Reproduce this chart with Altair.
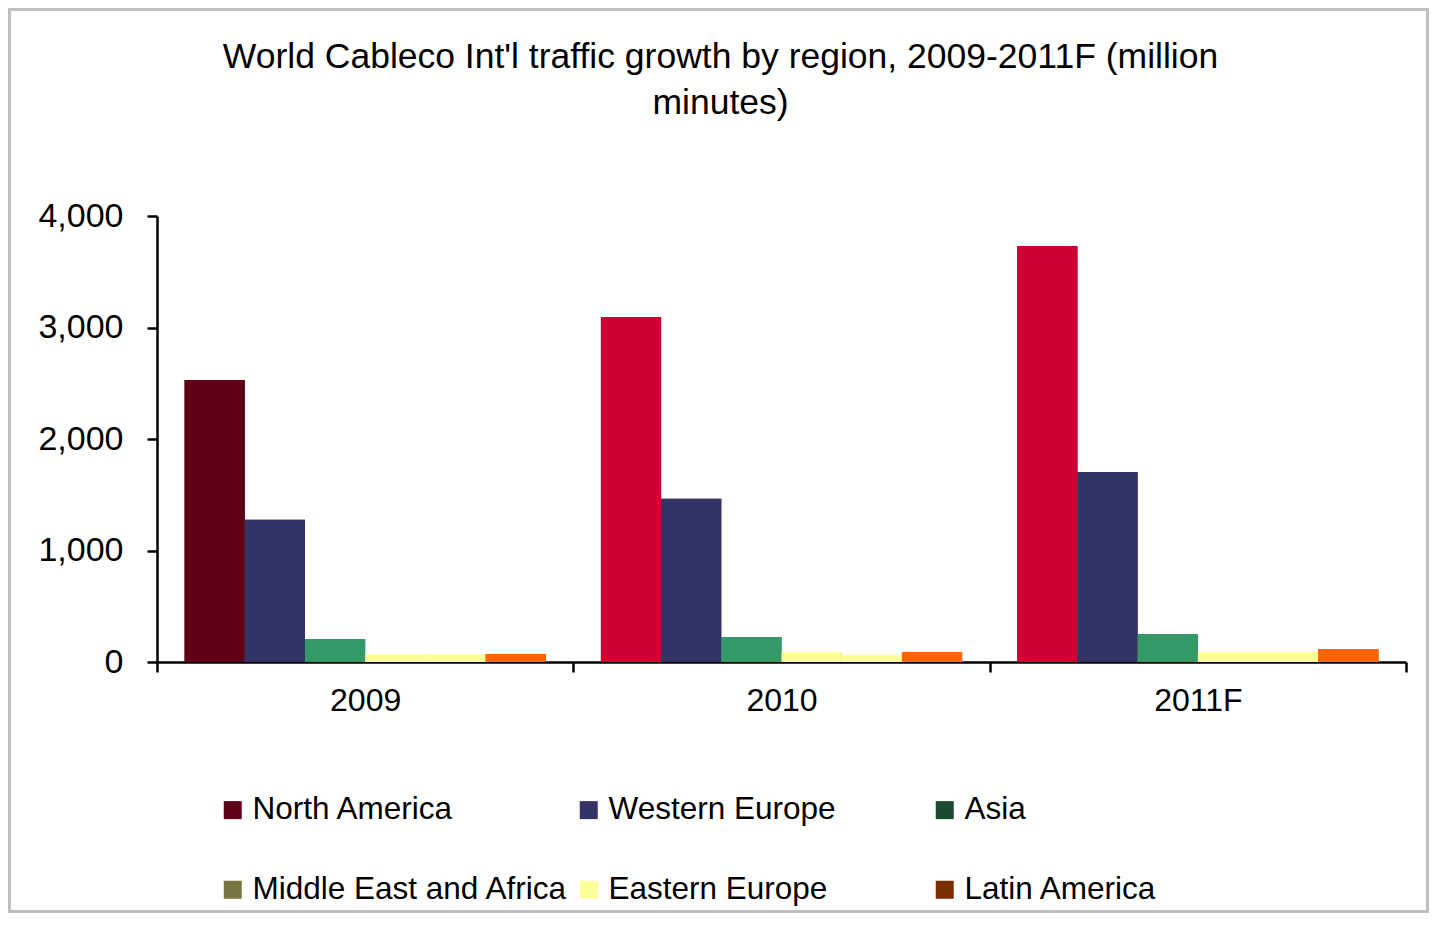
import altair as alt
import pandas as pd

years = ["2009", "2010", "2011F"]
regions = ["North America", "Western Europe", "Asia",
           "Middle East and Africa", "Eastern Europe", "Latin America"]

north_america = [2530, 3095, 3730]
western_europe = [1275, 1465, 1705]
asia = [205, 225, 250]
middle_east_africa = [72, 90, 90]
eastern_europe = [72, 63, 90]
latin_america = [72, 90, 117]

legend_colors = ["#600018", "#333366", "#1A4A30", "#777744", "#FFFF99", "#7A2E00"]
bar_colors_2009 = ["#600018", "#333366", "#339966", "#FFFF99", "#FFFF99", "#FF6600"]
bar_colors_later = ["#CC0033", "#333366", "#339966", "#FFFF99", "#FFFF99", "#FF6600"]

y_ticks = [0, 1000, 2000, 3000, 4000]
title_lines = ["World Cableco Int'l traffic growth by region, 2009-2011F (million", "minutes)"]

series = [north_america, western_europe, asia, middle_east_africa, eastern_europe, latin_america]
rows = []
for yi, yr in enumerate(years):
    cols = bar_colors_2009 if yi == 0 else bar_colors_later
    for ri, reg in enumerate(regions):
        rows.append({"year": yr, "region": reg, "value": series[ri][yi], "barcolor": cols[ri]})
df = pd.DataFrame(rows)

FONT = "Liberation Sans"

base = alt.Chart(df).encode(
    x=alt.X("year:N", sort=years,
            scale=alt.Scale(paddingInner=0, paddingOuter=0),
            axis=alt.Axis(title=None, labelAngle=0, tickBand="extent", labelFontSize=32,
                          labelPadding=13, tickSize=10)),
    xOffset=alt.XOffset("region:N", sort=regions,
                        scale=alt.Scale(paddingInner=0, paddingOuter=0.458)),
    y=alt.Y("value:Q", scale=alt.Scale(domain=[0, 4000], nice=False),
            axis=alt.Axis(title=None, values=y_ticks, format=",.0f", labelFontSize=34,
                          labelPadding=24, tickSize=10, grid=False)),
)

legend_layer = base.mark_bar().encode(
    color=alt.Color("region:N", sort=regions,
                    scale=alt.Scale(domain=regions, range=legend_colors),
                    legend=alt.Legend(title=None, orient="none", legendX=60, legendY=578,
                                      columns=3, direction="horizontal", gridAlign="all",
                                      columnPadding=5, rowPadding=47,
                                      symbolType="square", symbolSize=324, symbolStrokeWidth=0,
                                      labelFontSize=31.5, labelOffset=4, labelLimit=600,
                                      labelColor="black", labelFont=FONT))
)

bar_layer = base.mark_bar().encode(fill=alt.Fill("barcolor:N", scale=None))

frame = alt.Chart(alt.Data(values=[{"a": 1}])).mark_rect(
    fill="transparent", stroke="#BFBFBF", strokeWidth=3
).encode(x=alt.value(-147.5), x2=alt.value(1270.5), y=alt.value(-206.5), y2=alt.value(695.5))

chart = alt.layer(frame, legend_layer, bar_layer).properties(
    width=1249, height=446,
    autosize=alt.AutoSizeParams(type="none"),
    padding={"left": 149, "top": 208, "right": 23, "bottom": 251},
    title=alt.Title(title_lines, fontSize=35.5, font=FONT, fontWeight="normal", color="black",
                    anchor="middle", frame="group", dx=-61, offset=-113, lineHeight=46),
).configure_view(strokeWidth=0).configure_axis(
    domainColor="black", domainWidth=2.5, tickColor="black", tickWidth=2.5,
    labelColor="black", labelFont=FONT
)

chart.save("out.html", embed_options={"renderer": "svg", "actions": False})
